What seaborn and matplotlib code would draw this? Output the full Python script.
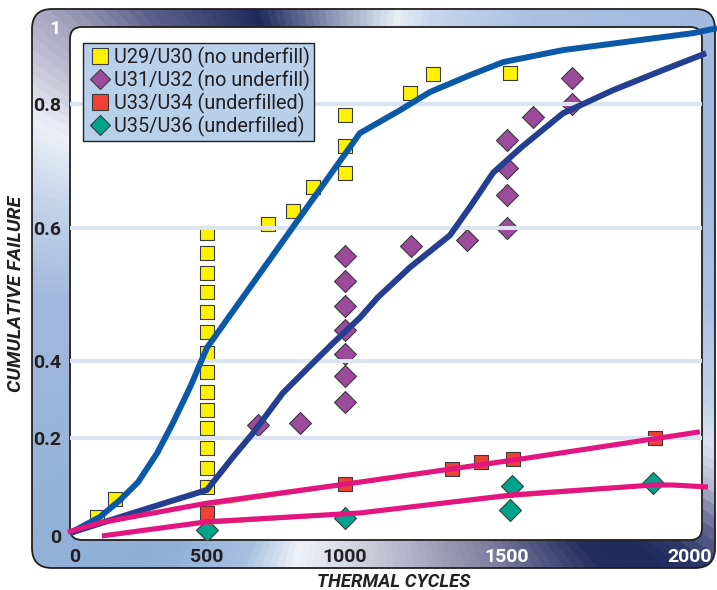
import numpy as np
import matplotlib
matplotlib.use("Agg")
import matplotlib.pyplot as plt
import seaborn as sns
from matplotlib.colors import LinearSegmentedColormap
from matplotlib.patches import FancyBboxPatch
from matplotlib.lines import Line2D

sns.set_style("white")
plt.rcParams["font.family"] = ["Roboto", "DejaVu Sans"]

# ------------------------------------------------------------------
# Data
# ------------------------------------------------------------------
u29_x = [83, 152] + [500] * 14 + [721, 812, 884, 1000, 1000, 1000, 1200, 1272, 1508]
u29_y = [0.039, 0.076,
         0.593, 0.563, 0.533, 0.503, 0.473, 0.443, 0.412,
         0.372, 0.320, 0.273, 0.225, 0.179, 0.138, 0.099,
         0.606, 0.627, 0.666, 0.689, 0.732, 0.782, 0.829, 0.878, 0.880]

u31_x = [685, 837] + [1000] * 7 + [1204, 1377] + [1500] * 4 + [1571, 1678, 1678]
u31_y = [0.234, 0.240,
         0.558, 0.521, 0.483, 0.447, 0.411, 0.361, 0.294,
         0.573, 0.582,
         0.600, 0.653, 0.697, 0.742,
         0.779, 0.800, 0.868]

u33_x = [500, 1000, 1330, 1420, 1516, 1904]
u33_y = [0.047, 0.106, 0.137, 0.151, 0.157, 0.200]

u35_x = [500, 1000, 1508, 1513, 1900]
u35_y = [0.012, 0.037, 0.053, 0.102, 0.108]

# fitted curves
fit29_x = [-19, 95, 170, 239, 311, 371, 436, 500, 1046, 1170,
           1262, 1386, 1489, 1653, 2008, 2074]
fit29_y = [0.006, 0.039, 0.073, 0.110, 0.169, 0.239, 0.332, 0.420, 0.753, 0.790,
           0.831, 0.875, 0.909, 0.940, 0.984, 0.997]

fit31_x = [-19, 220, 500, 594, 667, 775, 884, 957, 1046, 1102, 1201, 1324,
           1386, 1457, 1541, 1653, 1790, 1926, 2044]
fit31_y = [0.006, 0.047, 0.094, 0.161, 0.213, 0.317, 0.395, 0.427, 0.465, 0.496,
           0.541, 0.589, 0.634, 0.689, 0.731, 0.785, 0.836, 0.888, 0.932]

fit33_x = [-27, 95, 500, 1046, 1555, 2027]
fit33_y = [0.008, 0.027, 0.067, 0.110, 0.159, 0.216]

fit35_x = [102, 500, 1046, 1516, 1899, 1954, 2049]
fit35_y = [0.0, 0.029, 0.047, 0.084, 0.104, 0.104, 0.100]

# thin regression lines showing under the pink ones
reg33_x = [500, 1000, 1500, 1900]
reg33_y = [0.062, 0.103, 0.151, 0.196]
reg35_x = [500, 1000, 1500, 1880]
reg35_y = [0.025, 0.043, 0.079, 0.101]

x_ticks = [0, 500, 1000, 1500, 2000]
x_labels = ["0", "500", "1000", "1500", "2000"]
y_ticks = [0, 0.2, 0.4, 0.6, 0.8, 1.0]
y_labels = ["0", "0.2", "0.4", "0.6", "0.8", "1"]

# non-uniform axis spacing of the original (value -> screen position)
X_KNOTS = [-200, 0, 500, 1000, 1500, 2000, 2300]
X_POS = [22.2, 75, 207, 345, 507, 690, 799.8]
Y_KNOTS = [-0.2, 0, 0.2, 0.4, 0.6, 0.8, 1.0, 1.2]
Y_POS = [-98, 0, 98, 175, 308, 432, 509, 586]

YELLOW, PURPLE, RED, TEAL = "#fff200", "#9c4a9c", "#ef4136", "#00a38b"
BLUE, NAVY, PINK = "#0b58a6", "#243f8f", "#e3167f"
INK = "#231f20"


def x_fwd(v):
    return np.interp(v, X_KNOTS, X_POS)


def x_inv(p):
    return np.interp(p, X_POS, X_KNOTS)


def y_fwd(v):
    return np.interp(v, Y_KNOTS, Y_POS)


def y_inv(p):
    return np.interp(p, Y_POS, Y_KNOTS)


W, H = 717, 590
fig = plt.figure(figsize=(W / 100, H / 100), dpi=100)

# ------------------------------------------------------------------
# Frame with a conic blue/navy/white sheen
# ------------------------------------------------------------------
bg = fig.add_axes([0, 0, 1, 1])
bg.set_xlim(0, W)
bg.set_ylim(0, H)
bg.axis("off")

stops = [(0, "#a8bfe0"), (30, "#9fb8dc"), (56, "#a9c0e2"), (75, "#c8d6ec"),
         (82, "#e8eef6"), (96, "#8a93b5"), (110, "#1f2b5c"), (127, "#5c5f8a"),
         (138, "#a7a5bf"), (145, "#c8c8da"), (152, "#eef0f7"), (164, "#c5d3ea"),
         (181, "#a2badd"), (232, "#8eaed6"), (247, "#a8c0e0"), (257, "#eef2f8"),
         (270, "#d0d2e0"), (281, "#b4b3c9"), (298, "#7d7c9e"), (312, "#232e60"),
         (318, "#1f2b5c"), (322, "#2e3868"), (327, "#6a6e98"), (332, "#b8bed4"),
         (337, "#dae3f0"), (343, "#c3d2ea"), (360, "#a8bfe0")]
frame_cmap = LinearSegmentedColormap.from_list("frame", [(a / 360, c) for a, c in stops])
yy, xx = np.mgrid[0:H, 0:W] + 0.5
ang = np.degrees(np.arctan2(yy - (H - 292), xx - 360)) % 360
img = bg.imshow(ang, cmap=frame_cmap, vmin=0, vmax=360, origin="lower",
                extent=(0, W, 0, H), aspect="auto", interpolation="bilinear")
frame = FancyBboxPatch((32, 22), 683, 559, boxstyle="round,pad=0,rounding_size=20",
                       fc="none", ec=INK, lw=1.3)
bg.add_patch(frame)
img.set_clip_path(frame)
inner = FancyBboxPatch((70, 50), 632, 513, boxstyle="round,pad=0,rounding_size=12",
                       fc="white", ec=INK, lw=1.3)
bg.add_patch(inner)

# ------------------------------------------------------------------
# Plot area
# ------------------------------------------------------------------
ax = fig.add_axes([70 / W, 50 / H, 632 / W, 513 / H])
ax.patch.set_alpha(0)
for s in ax.spines.values():
    s.set_visible(False)
ax.set_xscale("function", functions=(x_fwd, x_inv))
ax.set_yscale("function", functions=(y_fwd, y_inv))
ax.set_xlim(-18.9, 2032.8)
ax.set_ylim(-0.0082, 1.0)

edge = "#3b3b3b"
sns.scatterplot(x=u29_x, y=u29_y, marker="s", s=105, color=YELLOW, edgecolor=edge,
                linewidth=0.8, ax=ax, zorder=2)
sns.scatterplot(x=u31_x, y=u31_y, marker="D", s=125, color=PURPLE, edgecolor=edge,
                linewidth=0.8, ax=ax, zorder=2)
sns.scatterplot(x=u33_x, y=u33_y, marker="s", s=105, color=RED, edgecolor=edge,
                linewidth=0.8, ax=ax, zorder=2)
sns.scatterplot(x=u35_x, y=u35_y, marker="D", s=125, color=TEAL, edgecolor=edge,
                linewidth=0.8, ax=ax, zorder=2)

for v in y_ticks[1:-1]:
    ax.axhline(v, color="#dbe4f0", lw=2.9, zorder=3)

sns.lineplot(x=reg33_x, y=reg33_y, sort=False, estimator=None, color="#f15a29",
             lw=1.4, ax=ax, zorder=3.5)
sns.lineplot(x=reg35_x, y=reg35_y, sort=False, estimator=None, color="#f15a29",
             lw=1.4, ax=ax, zorder=3.5)
for fx, fy, col, lw in [(fit29_x, fit29_y, BLUE, 4.3), (fit31_x, fit31_y, NAVY, 4.3),
                        (fit33_x, fit33_y, PINK, 3.7), (fit35_x, fit35_y, PINK, 3.7)]:
    sns.lineplot(x=fx, y=fy, sort=False, estimator=None, color=col, lw=lw, ax=ax,
                 zorder=4, clip_on=False, solid_capstyle="butt")

# ticks
ax.set_xticks(x_ticks)
ax.set_xticklabels(x_labels)
ax.set_yticks(y_ticks)
ax.set_yticklabels(y_labels)
ax.minorticks_off()
ax.tick_params(axis="x", length=0, pad=5.5, labelsize=14)
ax.tick_params(axis="y", length=0, pad=6.5, labelsize=14)
for i, lab in enumerate(ax.get_xticklabels()):
    lab.set_fontweight("bold")
    lab.set_color("white" if i >= 3 else INK)
for i, lab in enumerate(ax.get_yticklabels()):
    lab.set_fontweight("bold")
    lab.set_color("white" if i == len(y_ticks) - 1 else INK)

fig.text(16.5 / W, 1 - 294 / H, "CUMULATIVE FAILURE", rotation=90, ha="center",
         va="center", fontsize=14, fontweight="bold", fontstyle="italic", color=INK)
fig.text(394 / W, 1 - 582 / H, "THERMAL CYCLES", ha="center", va="center",
         fontsize=13.3, fontweight="bold", fontstyle="italic", color=INK)

# legend
handles = [
    Line2D([], [], ls="none", marker="s", markersize=11.3, mfc=YELLOW, mec=edge, mew=0.8),
    Line2D([], [], ls="none", marker="D", markersize=10.5, mfc=PURPLE, mec=edge, mew=0.8),
    Line2D([], [], ls="none", marker="s", markersize=11.3, mfc=RED, mec=edge, mew=0.8),
    Line2D([], [], ls="none", marker="D", markersize=10.5, mfc=TEAL, mec=edge, mew=0.8),
]
names = ["U29/U30 (no underfill)", "U31/U32 (no underfill)",
         "U33/U34 (underfilled)", "U35/U36 (underfilled)"]
leg = ax.legend(handles, names, loc="upper left", bbox_to_anchor=(13 / 632, 1 - 16 / 513),
                borderaxespad=0, fontsize=14.3, frameon=True, fancybox=False,
                facecolor="#b9d0ea", edgecolor=INK, framealpha=1, borderpad=0.2,
                handlelength=1.3, handletextpad=0.05, labelspacing=0.09, labelcolor=INK)
leg.get_frame().set_linewidth(1.0)
leg.set_zorder(6)

fig.savefig("out.png", dpi=100)
